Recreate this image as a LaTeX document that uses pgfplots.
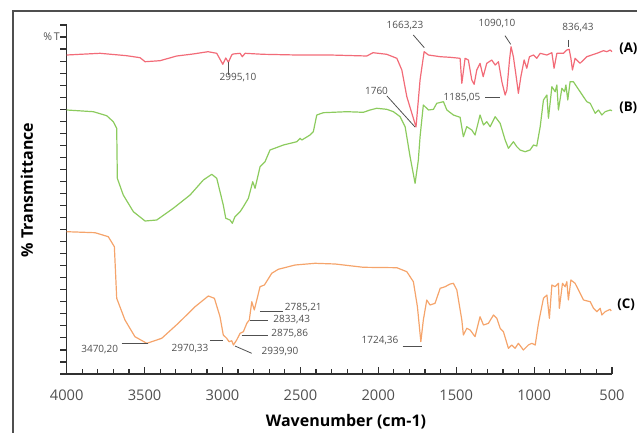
\documentclass[border=0pt]{standalone}
\usepackage{fontspec}
\setmainfont{Open Sans}
\usepackage{pgfplots}
\pgfplotsset{compat=1.18}
\definecolor{cA}{HTML}{F26B78}
\definecolor{cB}{HTML}{8CCB5E}
\definecolor{cC}{HTML}{F5A46B}
\definecolor{axc}{HTML}{303030}
\definecolor{annc}{HTML}{505050}
\begin{document}
\begin{tikzpicture}
\begin{axis}[
  width=409pt, height=261.75pt, scale only axis,
  xmin=500, xmax=4000, x dir=reverse,
  ymin=0, ymax=349,
  axis x line*=bottom, axis y line*=left,
  xtick={500,1000,...,4000},
  minor x tick num=4,
  ytick={0,12.0345,...,349.1},
  yticklabels={},
  tick align=inside,
  y tick style={xshift=-5pt},
  major tick length=5pt, minor tick length=4pt,
  tick style={axc, line width=0.9pt},
  axis line style={axc, line width=1pt},
  /pgf/number format/assume math mode=true,
  /pgf/number format/1000 sep={},
  xticklabel style={font=\fontsize{11}{13}\selectfont, text=annc, yshift=-8pt},
  clip=false,
  every axis plot/.append style={line width=0.9pt, line join=round, no markers},
]
\addplot[cA] coordinates {(4000,319) (3786,320.7) (3615,318.3) (3529,316.3) (3497,312.3) (3401,313.3) (3294,318) (3189,320) (3093,322.3) (3037,320.7) (2998,309.7) (2979,316) (2962,311.7) (2941,319) (2932,320) (2887,320.7) (2873,317.3) (2855,320.7) (2740,319.7) (2523,319) (2310,319) (2074,318) (2034,321.3) (1946,319.7) (1881,315.7) (1849,304) (1817,277.3) (1758,247) (1732,294) (1706,322.3) (1678,319) (1603,317.3) (1539,316.7) (1475,315.7) (1464,290.7) (1443,315.7) (1422,314) (1400,294) (1385,289.7) (1368,304) (1347,310.7) (1327,297.3) (1304,310.7) (1272,314) (1250,309) (1229,312.3) (1207,292.3) (1186,279) (1175,284) (1158,314) (1148,327.3) (1133,317.3) (1115,297.3) (1101,280.7) (1085,297.3) (1064,314) (1047,305.7) (1030,317.3) (1004,319) (983,315.7) (961,320.7) (918,319) (886,321.3) (872,305.7) (854,320.7) (812,320.7) (790,324) (775,324.7) (764,315.7) (754,304) (737,315.7) (705,310.7) (662,317.3) (597,320.7) (555,323.3) (533,322.3) (512,324) (501,322.3)};
\addplot[cB] coordinates {(4000,264) (3829,262.3) (3743,258.3) (3701,252.3) (3679,245.7) (3675,195.7) (3637,179) (3572,162.3) (3497,153) (3422,154) (3316,165.7) (3208,179) (3123,194) (3069,199.7) (3037,195.7) (2995,169) (2979,155.7) (2952,154) (2937,150.7) (2920,157.3) (2887,162.3) (2866,167.3) (2834,175.7) (2806,192.3) (2791,185.7) (2759,207.3) (2727,212.3) (2695,224) (2609,229) (2523,232.3) (2502,235.7) (2491,234) (2438,239) (2417,242.3) (2395,259) (2353,261.3) (2202,262.3) (2096,261.7) (2053,264) (2010,265.7) (1946,264.7) (1903,262.3) (1860,257.3) (1828,247.3) (1796,217.3) (1764,190.7) (1743,214) (1732,237.3) (1711,269) (1678,264) (1646,264.7) (1625,270.7) (1582,272.3) (1560,264) (1518,259) (1475,256.7) (1454,237.3) (1432,247.3) (1400,244) (1379,239) (1347,259) (1325,249) (1304,252.3) (1282,247.3) (1250,257.3) (1218,250.7) (1186,234) (1165,225.7) (1133,232.3) (1111,227.3) (1090,224) (1058,222.3) (1026,224) (1004,229) (983,228) (961,247.3) (940,274) (918,279) (908,255.7) (886,287.3) (865,282.3) (854,289) (844,264) (822,285.7) (805,282.3) (796,289) (784,274) (769,292.3) (748,292.3) (705,282.3) (662,272.3) (640,270.7) (608,260.7) (587,264) (565,259) (544,262.3) (512,264) (500,263.3)};
\addplot[cC] coordinates {(4000,142.3) (3818,141.3) (3733,137.3) (3694,127.3) (3679,75.7) (3626,54) (3562,37.3) (3486,30.7) (3390,35.7) (3284,50.7) (3176,67.3) (3091,78) (3052,75.7) (3016,57.3) (2995,39) (2973,35.7) (2958,32.3) (2941,33.3) (2930,29) (2909,34) (2887,40.7) (2866,42.3) (2844,50.7) (2828,54) (2812,72.3) (2796,64) (2780,74) (2759,87.3) (2731,89) (2684,100.7) (2642,104.7) (2534,109) (2406,110.7) (2277,110) (2096,106.7) (1881,106.3) (1817,102.3) (1775,92.3) (1749,67.3) (1727,32.3) (1711,54) (1689,74) (1668,69) (1636,70.7) (1603,85.7) (1571,87.3) (1539,90) (1518,90.7) (1496,84) (1464,54) (1454,39) (1432,45.7) (1411,44) (1379,37.3) (1347,57.3) (1325,49) (1293,50.7) (1261,59) (1239,55.7) (1218,45.7) (1197,42.3) (1165,25.7) (1143,29) (1122,25.7) (1101,30.7) (1069,24) (1037,29) (1015,30.7) (993,29) (972,50.7) (940,75.7) (918,79) (902,55.7) (886,89) (865,87.3) (844,90.7) (838,65.7) (818,90.7) (801,87.3) (790,92.3) (780,74) (764,94) (737,90.7) (683,74) (640,72.3) (619,65.7) (597,62.3) (576,65.7) (565,59) (544,62.3) (512,64.7) (505,63)};
\end{axis}
\begin{scope}[shift={(-50.025pt,280.5pt)}, x=0.75pt, y=-0.75pt]
  \draw[axc!85, line width=1.1pt] (13,450) -- (13,11) -- (660,11);
  \node[font=\fontsize{8}{9}\selectfont, text=annc, anchor=east, inner sep=0pt] at (60,37) {\%\,T};
  \node[font=\bfseries\fontsize{12}{14}\selectfont, rotate=90] at (27,190) {\% Transmittance};
  \node[font=\bfseries\fontsize{12}{14}\selectfont] at (346,422) {Wavenumber (cm-1)};
  \begin{scope}[font=\bfseries\fontsize{10}{12}\selectfont, inner sep=0pt]
    \node[anchor=west] at (619,49) {(A)};
    \node[anchor=west] at (619,108) {(B)};
    \node[anchor=west] at (617,305) {(C)};
  \end{scope}
  \begin{scope}[font=\fontsize{7.5}{9}\selectfont, text=annc, inner sep=0pt]
    \node at (238,78) {2995,10};
    \node at (405,26) {1663,23};
    \node at (497,24) {1090,10};
    \node at (578,28) {836,43};
    \node at (462,97.3) {1185,05};
    \node at (376.5,90.7) {1760};
    \node at (99.7,350) {3470,20};
    \node at (190,348.3) {2970,33};
    \node at (280,351.7) {2939,90};
    \node at (289.7,333.3) {2875,86};
    \node at (291.7,319.3) {2833,43};
    \node at (303.3,307.7) {2785,21};
    \node at (380,340.7) {1724,36};
  \end{scope}
  \begin{scope}[annc, line width=0.6pt]
    \draw (228.3,62) -- (228.3,75);
    \draw (413.3,35) -- (424.3,47.7);
    \draw (505,35.7) -- (510.7,44.3);
    \draw (568.3,40) -- (568.3,46.7);
    \draw (485,97.3) -- (500,97.3);
    \draw (387,96) -- (415,127);
    \draw (121.7,343.3) -- (147.7,343.3);
    \draw (210,340) -- (223.3,340);
    \draw (235,346) -- (251.7,353.3);
    \draw (241.7,335) -- (268.3,335);
    \draw (250,320.7) -- (268.3,320.7);
    \draw (260,311.7) -- (283.3,311.7);
    \draw (402.7,346) -- (421.7,346);
  \end{scope}
  \pgfresetboundingbox
  \path[use as bounding box] (0,0) rectangle (637,433);
\end{scope}
\end{tikzpicture}
\end{document}
